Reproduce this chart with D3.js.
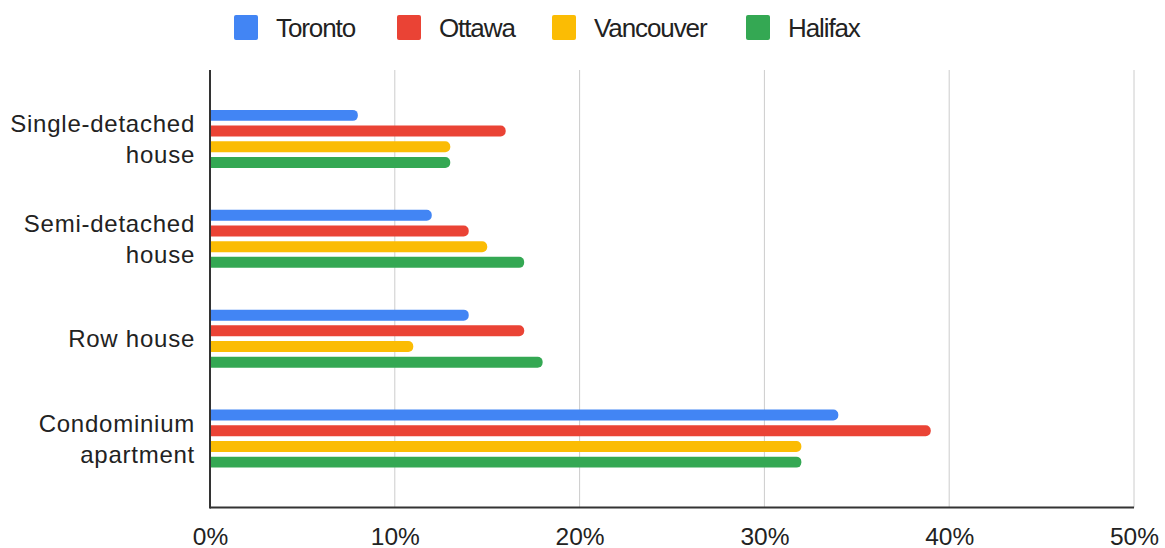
<!DOCTYPE html>
<html>
<head>
<meta charset="utf-8">
<script src="https://cdn.jsdelivr.net/npm/d3@7"></script>
<style>
  html, body { margin: 0; padding: 0; background: #fff; }
  svg { display: block; font-family: "Liberation Sans", Arial, sans-serif; }
</style>
</head>
<body>
<svg id="chart" width="1165" height="548"></svg>
<script>
// Share of purchases by dwelling type, per city (percent)
const categories = [["Single-detached", "house"], ["Semi-detached", "house"], ["Row house"], ["Condominium", "apartment"]];
const seriesNames = ["Toronto", "Ottawa", "Vancouver", "Halifax"];
const seriesColors = ["#4285F4", "#EA4335", "#FBBC04", "#34A853"];
const toronto   = [8, 12, 14, 34];
const ottawa    = [16, 14, 17, 39];
const vancouver = [13, 15, 11, 32];
const halifax   = [13, 17, 18, 32];
const xTicks = [0, 10, 20, 30, 40, 50];

const values = [toronto, ottawa, vancouver, halifax];
const svg = d3.select("#chart");

const plotLeft = 210, plotRight = 1134, plotTop = 70, plotBottom = 507.5;

const x = d3.scaleLinear().domain([0, 50]).range([plotLeft, plotRight]);
const y = d3.scaleBand().domain(d3.range(categories.length)).range([plotTop, plotBottom]).paddingInner(0).paddingOuter(0.19);
const inner = d3.scaleBand().domain(d3.range(seriesNames.length)).range([-31.4, 31.4]).paddingInner(0.3).paddingOuter(0.15);

// vertical gridlines
svg.append("g").selectAll("line").data(xTicks.slice(1)).join("line")
  .attr("x1", d => x(d)).attr("x2", d => x(d))
  .attr("y1", plotTop).attr("y2", plotBottom)
  .attr("stroke", "#cccccc").attr("stroke-width", 1);

// x tick labels
const xAxis = d3.axisBottom(x).tickValues(xTicks).tickFormat(d => d + "%").tickSize(0).tickPadding(0);
const xg = svg.append("g").attr("transform", `translate(0, ${plotBottom})`).call(xAxis);
xg.select(".domain").remove();
xg.selectAll("text")
  .attr("y", 37).attr("dy", null)
  .attr("fill", "#222").style("font-size", "24.5px").style("font-family", "'Liberation Sans', Arial, sans-serif");

// bars with rounded right end
const r = 5;
function barPath(x0, x1, y0, h) {
  const rr = Math.min(r, (x1 - x0), h / 2);
  return `M${x0},${y0}H${x1 - rr}A${rr},${rr} 0 0 1 ${x1},${y0 + rr}V${y0 + h - rr}A${rr},${rr} 0 0 1 ${x1 - rr},${y0 + h}H${x0}Z`;
}
const bars = [];
categories.forEach((c, ci) => {
  seriesNames.forEach((s, si) => bars.push({ ci, si, v: values[si][ci] }));
});
svg.append("g").selectAll("path").data(bars).join("path")
  .attr("d", d => {
    const cy = y(d.ci) + y.bandwidth() / 2;
    return barPath(x(0), x(d.v), cy + inner(d.si), inner.bandwidth());
  })
  .attr("fill", d => seriesColors[d.si]);

// axis lines
svg.append("line").attr("x1", plotLeft).attr("x2", plotLeft).attr("y1", plotTop).attr("y2", plotBottom + 1)
  .attr("stroke", "#333").attr("stroke-width", 2);
svg.append("line").attr("x1", plotLeft).attr("x2", plotRight).attr("y1", plotBottom).attr("y2", plotBottom)
  .attr("stroke", "#333").attr("stroke-width", 2);

// category labels
const lineH = 31;
const catG = svg.append("g");
categories.forEach((lines, ci) => {
  const cy = y(ci) + y.bandwidth() / 2;
  const t = catG.append("text")
    .attr("x", 195).attr("text-anchor", "end")
    .attr("fill", "#222").style("font-size", "24px").style("letter-spacing", "0.75px");
  const first = cy - (lines.length - 1) * lineH / 2 + 8.5;
  lines.forEach((ln, li) => {
    t.append("tspan").attr("x", 195).attr("y", first + li * lineH).text(ln);
  });
});

// legend
const legendX = [234, 397, 552, 746];
const lg = svg.append("g");
seriesNames.forEach((s, i) => {
  lg.append("rect").attr("x", legendX[i]).attr("y", 15).attr("width", 24).attr("height", 25)
    .attr("rx", 2).attr("fill", seriesColors[i]);
  lg.append("text").attr("x", legendX[i] + 42).attr("y", 36.5)
    .attr("fill", "#222").style("font-size", "26px").style("letter-spacing", "-1.1px").text(s);
});
</script>
</body>
</html>
